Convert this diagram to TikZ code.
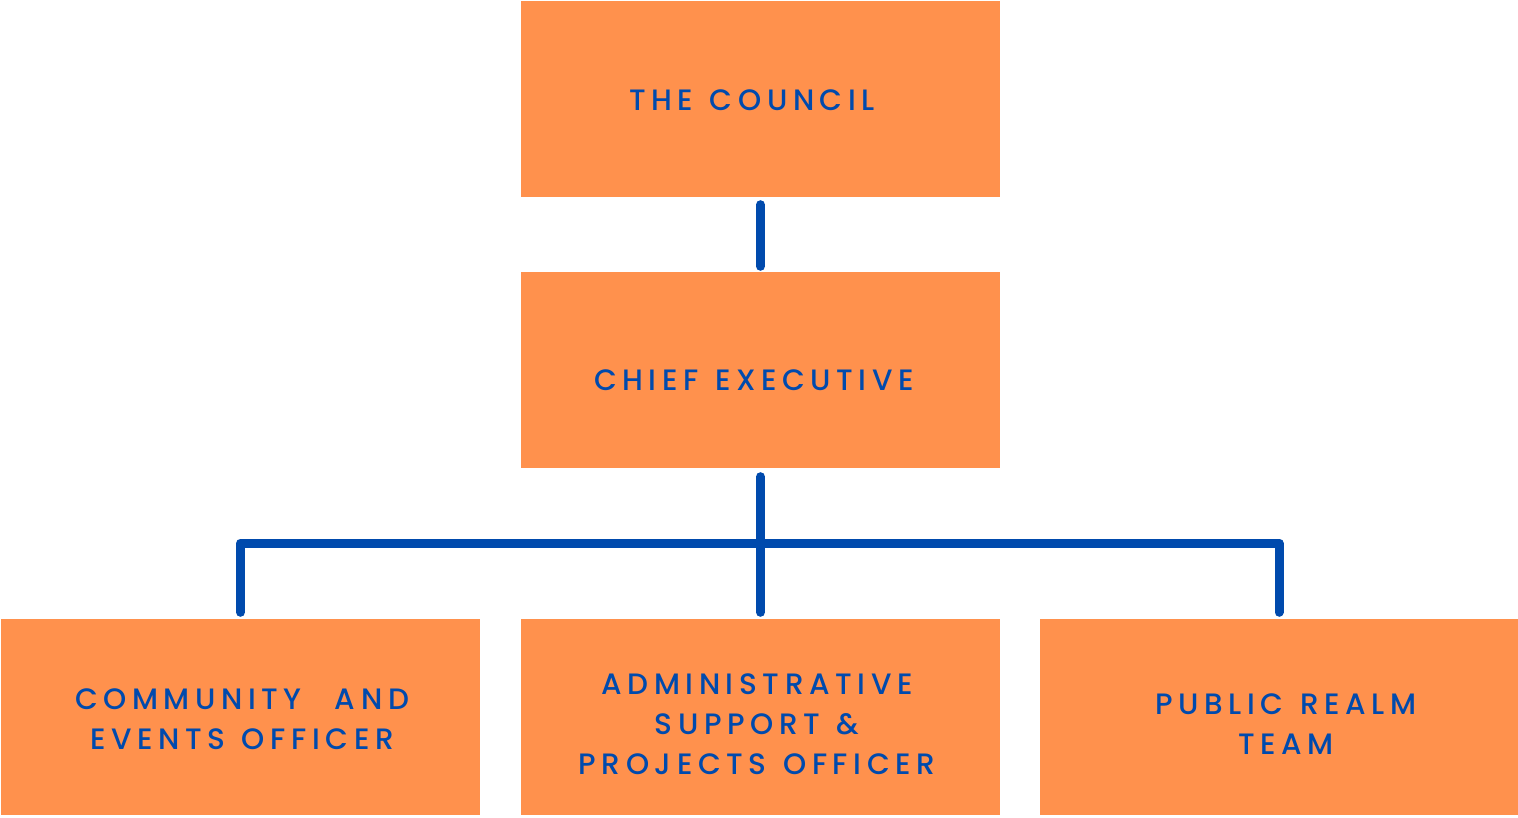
\documentclass[tikz,border=0pt]{standalone}
\usepackage{fontspec}
\setmainfont{Poppins}[UprightFont=* Medium, LetterSpace=19, WordSpace=1.25]
\definecolor{boxorange}{HTML}{FF914D}
\definecolor{linkblue}{HTML}{004AAD}
\begin{document}
\begin{tikzpicture}[x=1pt,y=-1pt,
  orgbox/.style={fill=boxorange, draw=none, minimum width=479pt, minimum height=196pt, inner sep=0pt},
  orglabel/.style={text=linkblue, font=\fontsize{29.5}{40}\selectfont, align=center, inner sep=0pt},
  link/.style={draw=linkblue, line width=9pt, line cap=round, line join=round}]
  \useasboundingbox (0,0) rectangle (1518,817);
  % boxes
  \node[orgbox] (council) at (760.5,99) {};
  \node[orgbox] (chief) at (760.5,370) {};
  \node[orgbox] (community) at (240.5,717) {};
  \node[orgbox] (admin) at (760.5,717) {};
  \node[orgbox] (public) at (1279,717) {};
  % labels
  \node[orglabel] (tcouncil) at (752,100) {THE COUNCIL};
  \node[orglabel] (tchief) at (754,380) {CHIEF EXECUTIVE};
  \node[orglabel] (tcommunity) at (242,719) {COMMUNITY\ \ AND\\EVENTS OFFICER};
  \node[orglabel] (tadmin) at (757,724) {ADMINISTRATIVE\\SUPPORT \&\\PROJECTS OFFICER};
  \node[orglabel] (tpublic) at (1286,724) {PUBLIC REALM\\TEAM};
  % connectors
  \coordinate (bus) at (760.5,543);
  \draw[link, shorten <=7.5pt, shorten >=5.5pt] (council.south) -- (chief.north);
  \draw[link, shorten <=8.5pt, shorten >=6.5pt] (chief.south) -- (admin.north);
  \draw[link, shorten <=6.5pt, shorten >=6.5pt] (community.north) |- (bus) -| (public.north);
\end{tikzpicture}
\end{document}
